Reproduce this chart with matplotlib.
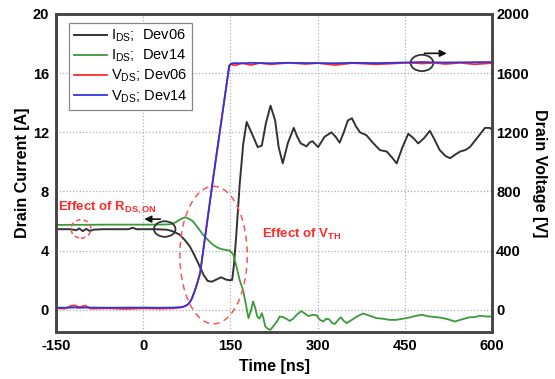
import matplotlib
matplotlib.use("Agg")
import matplotlib.pyplot as plt
from matplotlib.patches import Ellipse

plt.rcParams['font.family'] = ['Liberation Sans', 'DejaVu Sans']
plt.rcParams['mathtext.default'] = 'regular'

# ---- data ----
t_i06 = [-150, -125, -115, -110, -104, -98, -92, -85, -70, -40, -25, -18, -12, 0, 20, 40, 50, 62, 72, 80, 88, 97,
         104, 111, 118, 126, 134, 142, 148, 153, 156, 160, 166, 172, 178, 186, 197, 204, 211, 219, 227, 233, 240,
         249, 259, 265, 271, 281, 286, 291, 301, 312, 324, 331, 338, 345, 352, 359, 366, 373, 384, 395, 407, 419,
         428, 436, 446, 456, 465, 473, 483, 493, 500, 510, 520, 528, 537, 545, 554, 562, 572, 582, 588, 596, 600]
i_dev06 = [5.45, 5.45, 5.38, 5.5, 5.32, 5.47, 5.33, 5.42, 5.45, 5.45, 5.45, 5.55, 5.45, 5.45, 5.45, 5.42, 5.32,
           5.1, 4.7, 4.3, 3.7, 2.95, 2.35, 1.95, 1.9, 2.05, 2.2, 2.05, 2.0, 2.02, 3.0, 5.0, 8.5, 11.2, 12.7, 12.0,
           11.0, 11.1, 12.6, 13.8, 12.8, 11.0, 9.9, 11.3, 12.3, 11.7, 11.25, 11.05, 11.3, 11.4, 11.0, 11.7, 12.0,
           11.7, 11.3, 12.0, 12.8, 12.95, 12.4, 12.0, 11.8, 11.3, 10.8, 10.7, 10.3, 9.9, 11.0, 11.9, 11.6, 11.25,
           11.6, 12.1, 11.6, 10.8, 10.4, 10.25, 10.5, 10.7, 10.8, 11.0, 11.5, 12.0, 12.3, 12.3, 12.2]

t_i14 = [-150, -100, -50, 0, 30, 46, 55, 63, 72, 79, 86, 95, 103, 112, 120, 128, 135, 142, 149, 155, 160, 166,
         172, 177, 181, 185, 189, 193, 196, 200, 204, 207, 210, 215, 219, 224, 230, 235, 241, 246, 252, 258, 265,
         272, 278, 284, 292, 298, 304, 310, 315, 320, 325, 330, 335, 340, 345, 350, 358, 368, 378, 390, 401, 412,
         424, 435, 447, 460, 470, 479, 492, 505, 515, 525, 536, 548, 562, 570, 579, 590, 600]
i_dev14 = [5.74, 5.75, 5.76, 5.76, 5.76, 5.78, 5.9, 6.1, 6.26, 6.15, 5.97, 5.5, 5.07, 4.7, 4.4, 4.2, 4.1, 4.05,
           4.0, 3.72, 3.0, 2.0, 1.3, 0.3, -0.56, -0.1, 0.56, 0.1, -0.45, -0.6, -0.23, -0.6, -1.13, -1.3, -1.35,
           -1.1, -0.79, -0.45, -0.5, -0.6, -0.75, -0.6, -0.3, -0.09, -0.25, -0.42, -0.34, -0.36, -0.68, -0.79,
           -0.6, -0.65, -0.9, -0.95, -0.7, -0.5, -0.75, -0.9, -0.7, -0.45, -0.25, -0.4, -0.56, -0.6, -0.68, -0.68,
           -0.6, -0.5, -0.4, -0.34, -0.45, -0.5, -0.55, -0.65, -0.79, -0.65, -0.5, -0.5, -0.4, -0.45, -0.45]

t_v = [-150, -135, -125, -118, -110, -100, -90, -60, -30, 0, 30, 50, 65, 72, 78, 83, 88, 93, 98, 120, 148, 151,
       158, 170, 185, 200, 220, 250, 280, 300, 330, 360, 400, 430, 450, 470, 480, 500, 520, 545, 570, 600]
v_dev06 = [10, 8, 25, 30, 18, 28, 8, 10, 6, 10, 8, 10, 16, 24, 40, 70, 120, 180, 250, 880, 1650, 1660, 1652,
           1668, 1655, 1668, 1660, 1670, 1662, 1668, 1655, 1668, 1660, 1665, 1670, 1668, 1665, 1670, 1662,
           1670, 1660, 1668]
v_dev14 = [15, 14, 15, 16, 14, 15, 15, 14, 15, 15, 14, 15, 18, 25, 40, 70, 120, 180, 250, 880, 1650, 1665, 1668,
           1666, 1670, 1668, 1667, 1670, 1668, 1668, 1667, 1670, 1668, 1670, 1672, 1674, 1675, 1673, 1672,
           1673, 1674, 1675]

xticks = [-150, 0, 150, 300, 450, 600]
yticks_left = [0, 4, 8, 12, 16, 20]
yticks_right = [0, 400, 800, 1200, 1600, 2000]

# ---- figure ----
fig = plt.figure(figsize=(5.55, 3.79), dpi=100)
ax = fig.add_axes([0.1009, 0.124, 0.7856, 0.8391])
ax2 = ax.twinx()

c_blk, c_grn, c_red, c_blu = '#333333', '#3a9a3a', '#ff2a2a', '#3333dd'
l1, = ax.plot(t_i06, i_dev06, color=c_blk, lw=1.4, label=r'I$_{DS}$;  Dev06')
l2, = ax.plot(t_i14, i_dev14, color=c_grn, lw=1.3, label=r'I$_{DS}$;  Dev14')
l3, = ax2.plot(t_v, v_dev06, color=c_red, lw=1.3, label=r'V$_{DS}$; Dev06')
l4, = ax2.plot(t_v, v_dev14, color=c_blu, lw=1.3, label=r'V$_{DS}$; Dev14')

ax.set_xlim(-150, 600)
ax.set_ylim(-1.5, 20)
ax2.set_ylim(-150, 2000)
ax.set_xticks(xticks)
ax.set_yticks(yticks_left)
ax2.set_yticks(yticks_right)
ax.set_xticklabels([str(v) for v in xticks], fontweight='bold', fontsize=10.5)
ax.set_yticklabels([str(v) for v in yticks_left], fontweight='bold', fontsize=10.5)
ax2.set_yticklabels([str(v) for v in yticks_right], fontweight='bold', fontsize=10.5)
ax.tick_params(length=0, pad=5)
ax2.tick_params(length=0, pad=3)

ax.grid(True, linestyle=':', color='#b0b0b0', lw=0.9)
for a in (ax, ax2):
    for s in a.spines.values():
        s.set_linewidth(1.8)
        s.set_color('#444444')

ax.set_xlabel('Time [ns]', fontweight='bold', fontsize=11.5, labelpad=4)
ax.set_ylabel('Drain Current [A]', fontweight='bold', fontsize=11.5, labelpad=2)
ax2.set_ylabel('Drain Voltage [V]', fontweight='bold', fontsize=11.5, rotation=270, labelpad=13)

leg = ax2.legend(handles=[l1, l2, l3, l4], loc='upper left', bbox_to_anchor=(0.012, 0.995),
                 fontsize=10.5, handlelength=2.3, handletextpad=0.25, labelspacing=0.25,
                 borderpad=0.35, fancybox=False, edgecolor='#888888', framealpha=1)
leg.get_frame().set_linewidth(0.9)

# annotations
ax.add_patch(Ellipse((-107, 5.47), 34, 1.25, fill=False, ls=(0, (3, 2)), ec='#ff5555', lw=1.1, zorder=5))
ax.add_patch(Ellipse((121, 3.7), 116, 9.3, fill=False, ls=(0, (4, 3)), ec='#ff5555', lw=1.1, zorder=5))
ax.add_patch(Ellipse((37, 5.46), 37, 1.05, fill=False, ec='#333333', lw=1.3, zorder=5))
ax.add_patch(Ellipse((479.5, 16.69), 39, 1.1, fill=False, ec='#333333', lw=1.3, zorder=5))
ax.annotate('', xy=(-3, 6.13), xytext=(34, 6.13),
            arrowprops=dict(arrowstyle='-|>', color='#111111', lw=1.2, mutation_scale=10), zorder=6)
ax.annotate('', xy=(527, 17.34), xytext=(479, 17.34),
            arrowprops=dict(arrowstyle='-|>', color='#111111', lw=1.2, mutation_scale=10), zorder=6)
ax.text(-147, 6.7, r'Effect of R$_{DS,ON}$', color='#ff2a2a', fontweight='bold', fontsize=9.5,
        ha='left', va='baseline', zorder=6)
ax.text(204, 4.85, r'Effect of V$_{TH}$', color='#ff2a2a', fontweight='bold', fontsize=9.5,
        ha='left', va='baseline', zorder=6)

fig.savefig('out.png', dpi=100)
